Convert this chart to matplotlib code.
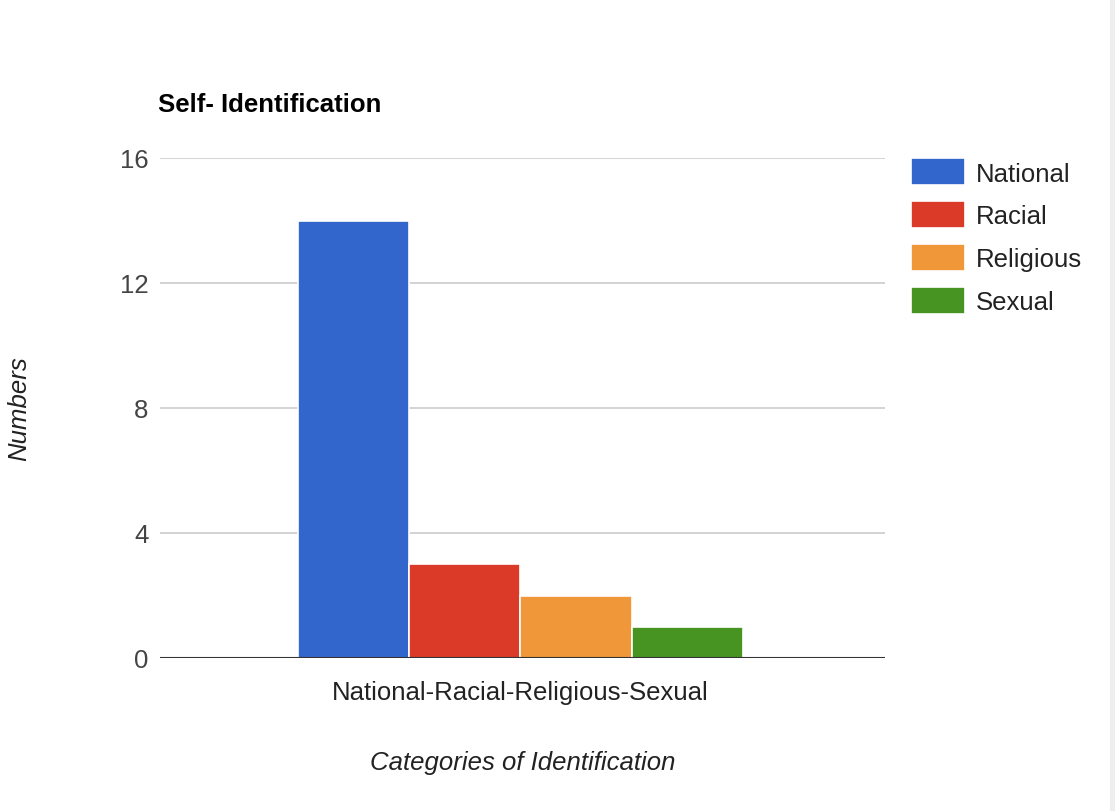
import matplotlib
matplotlib.use("Agg")
import matplotlib.pyplot as plt
from matplotlib.patches import Rectangle

plt.rcParams['font.family'] = ['Liberation Sans', 'DejaVu Sans']

series = ["National", "Racial", "Religious", "Sexual"]
values = [14, 3, 2, 1]
colors = ["#3366CC", "#DC3A28", "#F0973A", "#479422"]
category = "National-Racial-Religious-Sexual"
yticks = [0, 4, 8, 12, 16]

FS = 18.5
fig = plt.figure(figsize=(11.15, 8.12), dpi=100)
ax = fig.add_axes([160/1115, 153/812, 725/1115, 500/812])

for i, (s, v, c) in enumerate(zip(series, values, colors)):
    ax.bar(i, v, width=1.0, color=c, edgecolor="white", linewidth=1.2, label=s, zorder=3)

ax.set_xlim(1.5 - 3.258 + 0.018, 1.5 + 3.258 + 0.018)
ax.set_ylim(0, 16)
ax.set_yticks(yticks)
ax.set_yticklabels([str(t) for t in yticks], fontsize=FS, color="#444444")
ax.set_xticks([1.5])
ax.set_xticklabels([category], fontsize=FS, color="#222222")
ax.tick_params(axis='y', length=0, pad=8.2)
ax.tick_params(axis='x', length=0, pad=16)
for sp in ax.spines.values():
    sp.set_visible(False)
ax.grid(axis='y', color="#cccccc", linewidth=1.2, zorder=0)
ax.axhline(0, color="#333333", linewidth=1.5, zorder=4)

ax.set_ylabel("Numbers", fontsize=FS, style="italic", color="#222222", labelpad=0)
ax.yaxis.set_label_coords((31 - 160)/725, 0.5)
ax.set_xlabel("Categories of Identification", fontsize=FS, style="italic", color="#222222")
ax.xaxis.set_label_coords(0.5, -92/500)

fig.text(158/1115, 1 - 105/812, "Self- Identification", fontsize=FS, fontweight="bold",
         ha="left", va="center", color="#000000")

fig.legend(loc="upper left", bbox_to_anchor=(901/1115, 1 - 149/812), frameon=False,
           fontsize=FS, handlelength=2.08, handleheight=1.25, labelspacing=0.61,
           handletextpad=0.43, borderaxespad=0, labelcolor="#222222")

fig.patches.append(Rectangle((1110/1115, 0), 5/1115, 1, transform=fig.transFigure,
                             facecolor="#eeeeee", edgecolor="none"))

fig.savefig("out.png", dpi=100)
